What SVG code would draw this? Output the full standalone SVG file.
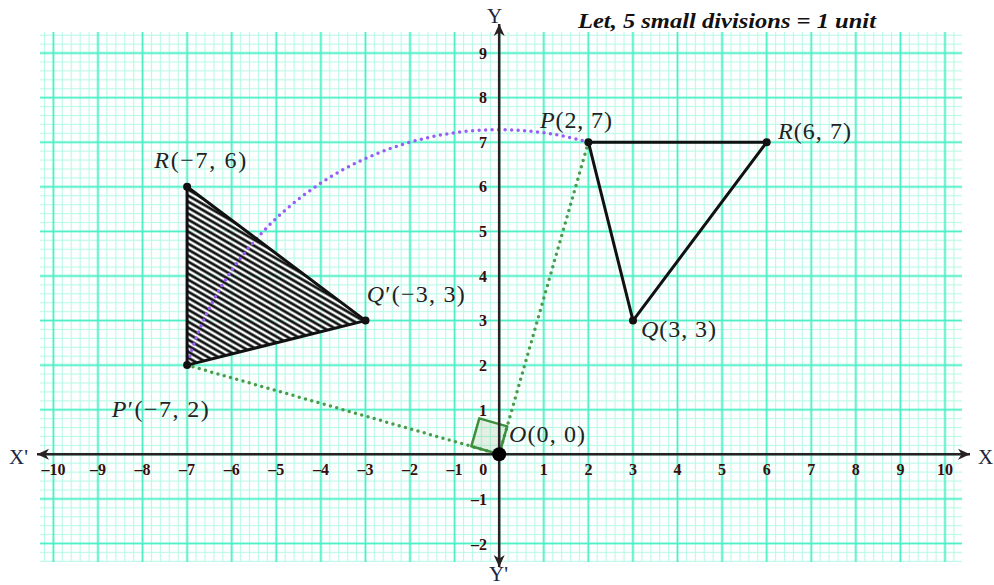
<svg xmlns="http://www.w3.org/2000/svg" width="994" height="585" viewBox="0 0 994 585">
<style>
.tick{font-family:"Liberation Serif",serif;font-weight:bold;font-size:16px;fill:#3a0c0c}
.tx{text-anchor:middle}
.ty{text-anchor:end}
.ax{font-family:"Liberation Serif",serif;font-size:21px;fill:#1b2540}
.lbl{font-family:"Liberation Serif",serif;font-size:24px;fill:#222}
.it{font-style:italic}
.edge{fill:none;stroke:#111;stroke-width:3;stroke-linejoin:round}
.dot{fill:#111}
.grn{fill:none;stroke:#4c9a4c;stroke-width:3.5;stroke-dasharray:0 6.5;stroke-linecap:round}
.pur{fill:none;stroke:#9a5cf5;stroke-width:3.5;stroke-dasharray:0 6.5;stroke-linecap:round}
.axis{stroke:#2a2222;stroke-width:2.5}
</style>
<defs>
<pattern id="minor" patternUnits="userSpaceOnUse" x="494.742" y="449.842" width="8.916" height="8.916">
<rect x="3.858" y="0" width="1.2" height="8.916" fill="#bcf8e8"/>
<rect x="0" y="3.858" width="8.916" height="1.2" fill="#bcf8e8"/>
</pattern>
<pattern id="major" patternUnits="userSpaceOnUse" x="476.91" y="432.01" width="44.58" height="44.58">
<rect x="21.39" y="0" width="1.8" height="44.58" fill="#4cefc6"/>
<rect x="0" y="21.39" width="44.58" height="1.8" fill="#4cefc6"/>
</pattern>
<pattern id="hatch" patternUnits="userSpaceOnUse" width="10" height="5.2" patternTransform="rotate(30)">
<rect x="0" y="0" width="10" height="5.2" fill="#fff" fill-opacity="0.75"/>
<rect x="0" y="1.2" width="10" height="2.7" fill="#111"/>
</pattern>
<marker id="arr" markerUnits="userSpaceOnUse" markerWidth="14" markerHeight="12" refX="12" refY="6" orient="auto">
<path d="M12,6 L0,0.5 L3.5,6 L0,11.5 Z" fill="#2a2222"/>
</marker>
</defs>

<g id="grid">
<rect x="40" y="32" width="922" height="530" fill="#fff"/>
<rect x="40" y="32" width="922" height="530" fill="url(#minor)"/>
<rect x="40" y="32" width="922" height="530" fill="url(#major)"/>
</g>

<g id="title">
<text x="578" y="28" textLength="298" lengthAdjust="spacingAndGlyphs" style="font-family:'Liberation Serif',serif;font-weight:bold;font-style:italic;font-size:21px;fill:#111">Let, 5 small divisions = 1 unit</text>
</g>

<g id="image-triangle">
<polygon points="187.1,365.1 365.5,320.6 187.1,186.8" fill="url(#hatch)"/>
</g>

<g id="connectors">
<path class="pur" d="M588.4,142.2 A324.5,324.5 0 0 0 187.1,365.1"/>
<line class="grn" x1="499.2" y1="454.3" x2="588.4" y2="142.2"/>
<line class="grn" x1="499.2" y1="454.3" x2="187.1" y2="365.1"/>
<polygon points="499.2,454.3 507.2,426.4 479.3,418.4 471.3,446.3" fill="#4c9a4c" fill-opacity="0.15" stroke="#3e8e3e" stroke-width="2.5" stroke-linejoin="round"/>
</g>

<g id="triangle-PQR">
<polygon class="edge" points="588.4,142.2 633,320.6 766.7,142.2"/>
</g>
<g id="triangle-PprimeQprimeR">
<polygon class="edge" points="187.1,365.1 365.5,320.6 187.1,186.8"/>
</g>

<g id="axes">
<line class="axis" x1="499.2" y1="454.3" x2="970" y2="454.3" marker-end="url(#arr)"/>
<line class="axis" x1="499.2" y1="454.3" x2="37" y2="454.3" marker-end="url(#arr)"/>
<line class="axis" x1="499.2" y1="454.3" x2="499.2" y2="24" marker-end="url(#arr)"/>
<line class="axis" x1="499.2" y1="454.3" x2="499.2" y2="567" marker-end="url(#arr)"/>
<text class="ax" x="9" y="464">X'</text>
<text class="ax" x="978" y="464">X</text>
<text class="ax" x="487" y="23">Y</text>
<text class="ax" x="489" y="581">Y'</text>
</g>

<g id="ticks-x">
<text class="tick tx" x="53.4" y="475">–10</text>
<text class="tick tx" x="98" y="475">–9</text>
<text class="tick tx" x="142.6" y="475">–8</text>
<text class="tick tx" x="187.1" y="475">–7</text>
<text class="tick tx" x="231.7" y="475">–6</text>
<text class="tick tx" x="276.3" y="475">–5</text>
<text class="tick tx" x="320.9" y="475">–4</text>
<text class="tick tx" x="365.5" y="475">–3</text>
<text class="tick tx" x="410" y="475">–2</text>
<text class="tick tx" x="454.6" y="475">–1</text>
<text class="tick tx" x="483.3" y="475">0</text>
<text class="tick tx" x="543.8" y="475">1</text>
<text class="tick tx" x="588.4" y="475">2</text>
<text class="tick tx" x="633" y="475">3</text>
<text class="tick tx" x="677.5" y="475">4</text>
<text class="tick tx" x="722.1" y="475">5</text>
<text class="tick tx" x="766.7" y="475">6</text>
<text class="tick tx" x="811.3" y="475">7</text>
<text class="tick tx" x="855.8" y="475">8</text>
<text class="tick tx" x="900.4" y="475">9</text>
<text class="tick tx" x="945" y="475">10</text>
</g>
<g id="ticks-y">
<text class="tick ty" x="487" y="58.6">9</text>
<text class="tick ty" x="487" y="103.2">8</text>
<text class="tick ty" x="487" y="147.7">7</text>
<text class="tick ty" x="487" y="192.3">6</text>
<text class="tick ty" x="487" y="236.9">5</text>
<text class="tick ty" x="487" y="281.5">4</text>
<text class="tick ty" x="487" y="326.1">3</text>
<text class="tick ty" x="487" y="370.6">2</text>
<text class="tick ty" x="487" y="415.7">1</text>
<text class="tick ty" x="487" y="505">–1</text>
<text class="tick ty" x="487" y="549.5">–2</text>
</g>

<g id="points">
<circle class="dot" cx="588.4" cy="142.2" r="4"/>
<circle class="dot" cx="633" cy="320.6" r="4"/>
<circle class="dot" cx="766.7" cy="142.2" r="4"/>
<circle class="dot" cx="187.1" cy="365.1" r="4"/>
<circle class="dot" cx="365.5" cy="320.6" r="4"/>
<circle class="dot" cx="187.1" cy="186.8" r="4"/>
<circle cx="499.2" cy="454.3" r="7" fill="#000"/>
</g>

<g id="labels">
<text class="lbl" x="540" y="128" textLength="72" lengthAdjust="spacing"><tspan class="it">P</tspan>(2, 7)</text>
<text class="lbl" x="778" y="139" textLength="73" lengthAdjust="spacing"><tspan class="it">R</tspan>(6, 7)</text>
<text class="lbl" x="641" y="337" textLength="75" lengthAdjust="spacing"><tspan class="it">Q</tspan>(3, 3)</text>
<text class="lbl" x="509" y="442" textLength="76" lengthAdjust="spacing"><tspan class="it">O</tspan>(0, 0)</text>
<text class="lbl" x="154.3" y="168" textLength="92" lengthAdjust="spacing"><tspan class="it">R</tspan>(−7, 6)</text>
<text class="lbl" x="111.7" y="417" textLength="97" lengthAdjust="spacing"><tspan class="it">P</tspan>′(−7, 2)</text>
<text class="lbl" x="366.7" y="302" textLength="98" lengthAdjust="spacing"><tspan class="it">Q</tspan>′(−3, 3)</text>
</g>
</svg>
